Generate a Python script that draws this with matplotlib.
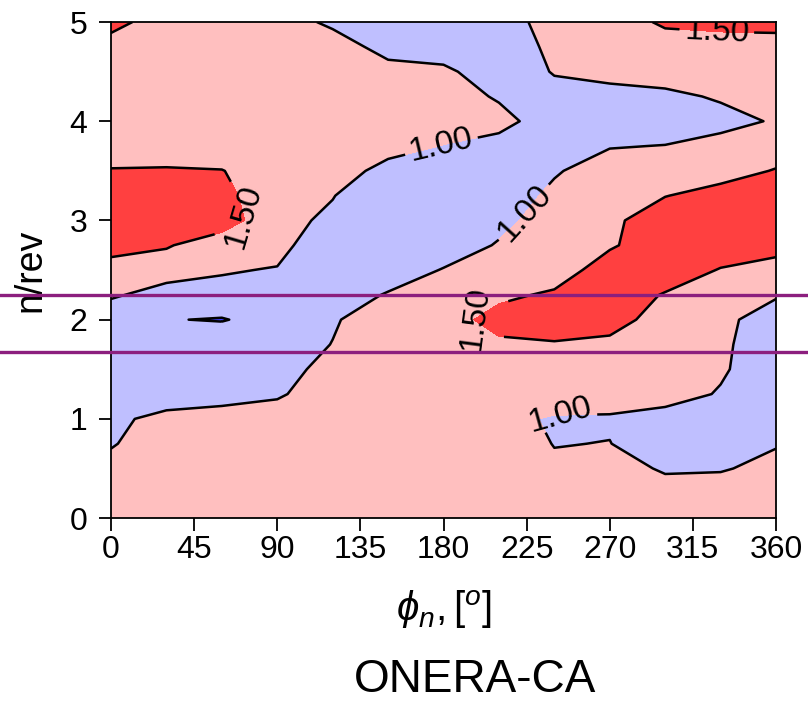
import matplotlib
matplotlib.use("Agg")
import matplotlib.pyplot as plt
import numpy as np

# ---- data ----
phi = [0, 30, 60, 90, 120, 150, 180, 210, 240, 270, 300, 330, 360]
nrev = [0, 0.25, 0.5, 0.75, 1.0, 1.25, 1.5, 1.75, 2.0, 2.25, 2.5,
        2.75, 3.0, 3.25, 3.5, 3.75, 4.0, 4.25, 4.5, 4.75, 5.0]

# rows: n/rev = 0 ... 5 ; columns: phi = 0 ... 360
z_00 = [1.35, 1.35, 1.35, 1.35, 1.35, 1.35, 1.35, 1.15, 1.35, 1.35, 1.35, 1.35, 1.35]
z_01 = [1.35, 1.35, 1.35, 1.35, 1.35, 1.35, 1.35, 1.15, 1.35, 1.35, 1.35, 1.35, 1.35]
z_02 = [1.20, 1.35, 1.35, 1.35, 1.35, 1.35, 1.35, 1.15, 1.10, 1.35, 0.90, 0.94, 1.20]
z_03 = [0.95, 1.35, 1.35, 1.35, 1.35, 1.35, 1.35, 1.35, 0.98, 1.014, 0.60, 0.60, 0.95]
z_04 = [0.85, 1.20, 1.26, 1.30, 1.35, 1.35, 1.35, 1.15, 0.94, 0.92, 0.76, 0.60, 0.85]
z_05 = [0.60, 0.62, 0.76, 0.92, 1.35, 1.35, 1.35, 1.15, 1.35, 1.35, 1.26, 0.95, 0.60]
z_06 = [0.60, 0.60, 0.60, 0.60, 1.35, 1.35, 1.35, 1.15, 1.15, 1.15, 1.35, 1.08, 0.60]
z_07 = [0.60, 0.60, 0.85, 0.60, 1.02, 1.35, 1.35, 1.38, 1.44, 1.32, 1.15, 1.12, 0.60]
z_08 = [0.60, 0.52, 0.47, 0.695, 0.92, 1.45, 1.20, 1.75, 1.90, 1.82, 1.15, 1.20, 0.60]
z_09 = [1.08, 0.76, 0.85, 0.60, 0.60, 1.06, 1.35, 1.36, 1.60, 1.90, 1.45, 1.15, 1.08]
z_10 = [1.24, 1.26, 1.04, 0.97, 0.60, 0.60, 1.04, 1.35, 1.15, 1.84, 1.90, 1.46, 1.24]
z_11 = [1.74, 1.54, 1.24, 1.17, 0.60, 0.60, 0.60, 1.06, 1.15, 1.42, 1.90, 1.90, 1.74]
z_12 = [1.90, 1.90, 1.74, 1.16, 0.90, 0.60, 0.60, 0.80, 1.35, 1.35, 1.90, 1.90, 1.90]
z_13 = [1.90, 1.90, 1.65, 1.15, 1.02, 0.60, 0.60, 0.60, 1.156, 1.35, 1.48, 1.74, 1.90]
z_14 = [1.54, 1.56, 1.52, 1.15, 1.35, 0.76, 0.60, 0.60, 0.93, 1.35, 1.25, 1.24, 1.54]
z_15 = [1.15, 1.15, 1.15, 1.35, 1.35, 1.26, 0.98, 0.74, 0.60, 0.96, 1.02, 1.26, 1.15]
z_16 = [1.07, 1.15, 1.15, 1.35, 1.35, 1.35, 1.35, 1.24, 0.60, 0.60, 0.60, 0.76, 1.07]
z_17 = [1.15, 1.15, 1.15, 1.35, 1.35, 1.35, 1.35, 0.92, 0.80, 0.74, 0.84, 1.08, 1.15]
z_18 = [1.15, 1.15, 1.15, 1.35, 1.35, 1.24, 1.14, 0.60, 1.04, 1.24, 1.34, 1.35, 1.15]
z_19 = [1.22, 1.15, 1.15, 1.35, 1.35, 0.74, 0.64, 0.60, 1.15, 1.35, 1.15, 1.20, 1.22]
z_20 = [1.72, 1.15, 1.15, 1.35, 0.86, 0.60, 0.60, 0.60, 1.35, 1.10, 1.62, 1.70, 1.72]

Z = np.array([z_00, z_01, z_02, z_03, z_04, z_05, z_06, z_07, z_08, z_09, z_10,
              z_11, z_12, z_13, z_14, z_15, z_16, z_17, z_18, z_19, z_20])

fill_levels = [0.0, 0.5, 1.0, 1.5, 2.0]
minor_levels = [0.5]
label_levels = [1.0, 1.5]
label_spots = [(178, 3.8), (231, 2.97), (243, 1.05),
               (74, 3.05), (196, 2.05), (328, 4.92)]
marker_lines = [2.25, 1.67]

xticks = [0, 45, 90, 135, 180, 225, 270, 315, 360]
yticks = [0, 1, 2, 3, 4, 5]

# ---- style ----
plt.rcParams['font.family'] = ['Liberation Sans', 'DejaVu Sans']
plt.rcParams['mathtext.fontset'] = 'custom'
plt.rcParams['mathtext.rm'] = 'Liberation Sans'
plt.rcParams['mathtext.it'] = 'Liberation Sans:italic'
plt.rcParams['mathtext.fallback'] = 'stixsans'

fig = plt.figure(figsize=(8.08, 7.02), dpi=100)
ax = fig.add_axes([0.1374, 0.262, 0.823, 0.7066])

ax.contourf(phi, nrev, Z, levels=fill_levels,
            colors=['#4040ff', '#bfbfff', '#ffbfbf', '#ff4040'])
ax.contour(phi, nrev, Z, levels=minor_levels, colors='k', linewidths=1.8)
cs = ax.contour(phi, nrev, Z, levels=label_levels, colors='k', linewidths=1.8)
ax.clabel(cs, fmt='%1.2f', fontsize=24, inline=True, manual=label_spots)

ax.set_xlim(0, 360)
ax.set_ylim(0, 5)
ax.set_xticks(xticks)
ax.set_yticks(yticks)
ax.tick_params(labelsize=23, length=9, width=1.3, direction='out')
ax.tick_params(axis='y', pad=8)
ax.tick_params(axis='x', pad=3)
for s in ax.spines.values():
    s.set_linewidth(1.3)

ax.set_xlabel(r'$\phi_n, [^o]$', fontsize=29)
ax.xaxis.set_label_coords(0.5, -0.141)
ax.set_ylabel('n/rev', fontsize=27)
ax.yaxis.set_label_coords(-0.094, 0.5)

for y in marker_lines:
    ax.axhline(y, xmin=-0.17, xmax=1.05, color='#8c1f7e', lw=2.4, clip_on=False, zorder=5)

fig.text(0.588, 0.014, 'ONERA-CA', fontsize=33, ha='center', va='baseline')

fig.savefig('out.png', dpi=100)
